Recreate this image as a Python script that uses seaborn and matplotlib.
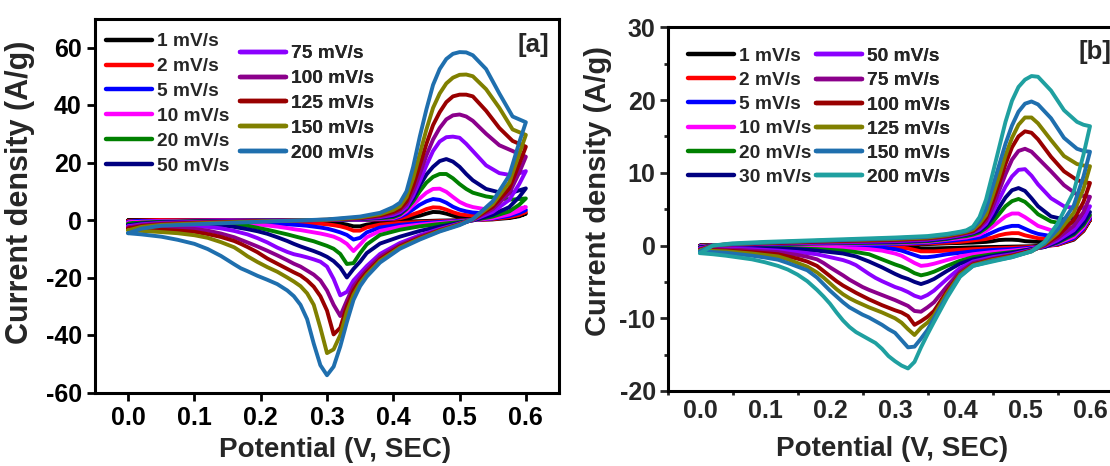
import matplotlib
matplotlib.use("Agg")
import matplotlib.pyplot as plt
from matplotlib.lines import Line2D
from matplotlib.ticker import MultipleLocator, FixedLocator
import pandas as pd
import seaborn as sns

# ---------------------------------------------------------------
# Potential grids (V vs SCE): anodic sweep then cathodic sweep
# ---------------------------------------------------------------
grid_fa = [0.00, 0.02, 0.05, 0.10, 0.20, 0.30, 0.35, 0.38,
           0.40, 0.41, 0.42, 0.43, 0.44, 0.45, 0.46, 0.47, 0.48, 0.49, 0.50, 0.51, 0.52,
           0.54, 0.56, 0.58, 0.60]
grid_ra = [0.60, 0.59, 0.575, 0.55, 0.52, 0.50, 0.47, 0.44, 0.41, 0.38,
           0.36, 0.35, 0.34, 0.33, 0.32, 0.31, 0.30, 0.29, 0.28, 0.27,
           0.26, 0.25, 0.24, 0.225, 0.21, 0.195, 0.18, 0.17, 0.16, 0.14,
           0.12, 0.10, 0.075, 0.05, 0.02, 0.00]

grid_fb = [0.00, 0.02, 0.05, 0.10, 0.20, 0.30, 0.35, 0.38,
           0.40, 0.41, 0.42, 0.43, 0.44, 0.45, 0.46, 0.47, 0.48, 0.49, 0.50, 0.51, 0.52,
           0.54, 0.56, 0.58, 0.59, 0.60]
grid_rb = [0.60, 0.59, 0.575, 0.55, 0.53, 0.51, 0.48, 0.45, 0.42, 0.40,
           0.38, 0.36, 0.35, 0.34, 0.33, 0.32, 0.31,
           0.30, 0.29, 0.28, 0.27, 0.26, 0.25, 0.24, 0.23, 0.22, 0.21,
           0.20, 0.19, 0.18, 0.165, 0.15, 0.135, 0.12, 0.10, 0.08, 0.06,
           0.04, 0.02, 0.00]

# ---------------------------------------------------------------
# Panel [a]: current density (A/g)
# ---------------------------------------------------------------
rates_a = ["1 mV/s", "2 mV/s", "5 mV/s", "10 mV/s", "20 mV/s", "50 mV/s",
           "75 mV/s", "100 mV/s", "125 mV/s", "150 mV/s", "200 mV/s"]
colors_a = ["#000000", "#FF0000", "#0000FF", "#FF00FF", "#008000", "#000080",
            "#8B00FF", "#8B008B", "#990000", "#808000", "#1F6FAE"]

a_f1 = [-0.1, -0.1, -0.1, 0.0, 0.0, 0.0, 0.1, 0.1,
        0.2, 0.3, 0.6, 1.0, 1.5, 2.2, 2.8, 2.7, 2.2, 1.5, 1.0, 0.8, 0.7,
        0.7, 0.8, 1.0, 2.2]
a_f2 = [-0.3, -0.2, -0.1, -0.1, 0.0, 0.0, 0.1, 0.2,
        0.3, 0.6, 1.2, 2.0, 2.8, 3.8, 4.4, 4.3, 3.6, 2.7, 2.0, 1.7, 1.5,
        1.4, 1.5, 1.8, 2.8]
a_f5 = [-0.6, -0.4, -0.3, -0.2, -0.1, 0.0, 0.1, 0.3,
        0.5, 1.1, 2.2, 3.7, 5.3, 6.5, 7.3, 7.0, 6.0, 4.6, 3.6, 3.0, 2.6,
        2.3, 2.3, 2.6, 3.5]
a_f10 = [-0.9, -0.6, -0.4, -0.3, -0.1, 0.0, 0.2, 0.4,
         0.7, 1.5, 3.0, 5.2, 7.5, 9.5, 10.8, 10.9, 9.8, 8.0, 6.3, 5.2, 4.5,
         3.7, 3.4, 3.5, 4.5]
a_f20 = [-1.3, -0.9, -0.6, -0.4, -0.2, 0.0, 0.3, 0.6,
         1.0, 1.9, 3.8, 6.5, 10.0, 13.0, 15.0, 16.0, 16.0, 14.5, 12.5, 10.8, 9.5,
         8.2, 7.5, 7.1, 7.5]
a_f50 = [-1.8, -1.2, -0.8, -0.5, -0.2, 0.0, 0.4, 0.8,
         1.4, 2.3, 4.2, 7.5, 12.0, 15.8, 18.5, 20.5, 21.2, 20.3, 18.5, 16.0, 13.8,
         10.8, 9.6, 9.6, 11.0]
a_f75 = [-2.2, -1.5, -1.0, -0.7, -0.3, 0.0, 0.5, 1.0,
         1.8, 2.7, 4.5, 8.5, 13.5, 19.0, 24.0, 27.3, 28.8, 29.0, 28.6, 26.5, 24.0,
         19.0, 16.3, 15.5, 17.0]
a_f100 = [-2.6, -1.8, -1.2, -0.8, -0.3, 0.0, 0.6, 1.3,
          2.3, 3.3, 5.5, 10.0, 16.0, 22.5, 28.0, 32.0, 35.0, 36.4, 36.7, 36.0, 34.5,
          30.0, 26.0, 24.0, 22.0]
a_f125 = [-3.0, -2.1, -1.5, -1.0, -0.4, 0.1, 0.7, 1.6,
          2.8, 3.9, 6.5, 12.0, 19.0, 26.5, 33.0, 37.5, 41.0, 43.0, 43.6, 43.6, 43.0,
          38.0, 32.0, 27.5, 25.5]
a_f150 = [-3.6, -2.4, -1.7, -1.2, -0.5, 0.1, 0.9, 2.0,
          3.5, 4.8, 8.0, 14.5, 23.0, 31.5, 39.0, 44.0, 47.5, 49.5, 50.5, 50.6, 50.0,
          45.5, 39.0, 31.5, 29.6]
a_f200 = [-4.6, -3.0, -2.0, -1.5, -0.6, 0.2, 1.2, 2.5,
          4.5, 6.0, 10.0, 18.5, 29.0, 38.5, 47.0, 52.5, 56.0, 57.8, 58.4, 58.3, 57.3,
          52.5, 44.0, 36.0, 34.0]

a_r1 = [2.2, 1.3, 0.7, 0.2, 0.0, -0.1, -0.2, -0.4, -0.6, -1.0, -1.6, -2.2, -2.2, -1.6, -1.2,
        -1.0, -0.8, -0.7, -0.6, -0.5,
        -0.5, -0.45, -0.4, -0.35, -0.3, -0.25, -0.2, -0.15, -0.1, -0.1, -0.1, -0.1, -0.1, -0.1, -0.1, -0.1]
a_r2 = [2.8, 1.8, 1.0, 0.3, 0.0, -0.2, -0.4, -0.7, -1.0, -1.6, -2.6, -3.7, -3.7, -2.8, -2.2,
        -1.8, -1.5, -1.3, -1.1, -1.0,
        -0.9, -0.8, -0.7, -0.6, -0.5, -0.4, -0.3, -0.3, -0.3, -0.2, -0.2, -0.2, -0.2, -0.2, -0.3, -0.3]
a_r5 = [3.5, 2.4, 1.4, 0.5, 0.0, -0.3, -0.7, -1.1, -1.7, -2.6, -4.3, -6.2, -6.8, -5.2, -4.3,
        -3.6, -3.0, -2.6, -2.3, -2.0,
        -1.8, -1.65, -1.5, -1.3, -1.1, -0.9, -0.7, -0.6, -0.5, -0.4, -0.4, -0.4, -0.45, -0.5, -0.5, -0.6]
a_r10 = [4.5, 3.2, 1.9, 0.7, -0.1, -0.5, -1.0, -1.6, -2.4, -3.8, -6.0, -8.5, -10.8, -8.3, -6.8,
         -5.8, -5.2, -4.7, -4.3, -3.9,
         -3.5, -3.2, -2.8, -2.3, -1.9, -1.5, -1.2, -1.0, -0.9, -0.7, -0.65, -0.6, -0.65, -0.7, -0.8, -0.9]
a_r20 = [7.5, 5.3, 3.0, 1.2, -0.1, -0.7, -1.4, -2.2, -3.4, -5.2, -8.5, -11.5, -15.0, -15.3, -11.8,
         -10.0, -9.0, -8.2, -7.4, -6.8,
         -6.2, -5.6, -5.0, -4.2, -3.4, -2.7, -2.0, -1.7, -1.4, -1.1, -1.0, -0.9, -0.95, -1.0, -1.1, -1.3]
a_r50 = [11.0, 8.0, 4.5, 1.8, -0.1, -1.0, -2.3, -3.8, -5.8, -8.2, -11.5, -14.5, -17.0, -20.0, -16.5,
         -14.3, -12.8, -11.7, -10.8, -10.0,
         -9.2, -8.3, -7.3, -6.0, -4.8, -3.9, -3.2, -2.8, -2.4, -1.8, -1.5, -1.3, -1.3, -1.4, -1.6, -1.8]
a_r75 = [17.0, 12.5, 7.0, 2.8, 0.0, -1.2, -3.1, -5.3, -8.0, -11.8, -16.0, -18.5, -21.0, -25.0, -26.2,
         -20.5, -16.2, -14.5, -13.7, -13.0,
         -12.4, -11.9, -11.1, -9.6, -7.8, -6.3, -5.0, -4.4, -3.8, -2.9, -2.4, -2.2, -2.1, -2.1, -2.1, -2.2]
a_r100 = [22.0, 16.5, 9.3, 3.8, 0.1, -1.4, -3.4, -5.8, -8.7, -12.8, -17.3, -20.0, -23.0, -28.0, -33.4,
          -29.5, -24.5, -21.0, -19.0, -17.6,
          -16.2, -15.2, -14.0, -12.3, -10.7, -9.2, -7.8, -6.9, -6.0, -4.7, -3.7, -3.1, -2.9, -2.8, -2.7, -2.6]
a_r125 = [25.5, 19.5, 11.0, 4.6, 0.2, -1.5, -3.6, -6.2, -9.2, -13.6, -18.2, -21.0, -24.5, -30.0, -37.5,
          -39.8, -31.5, -26.5, -23.2, -21.0,
          -19.3, -18.2, -17.0, -15.2, -13.4, -11.2, -9.4, -8.3, -7.3, -5.9, -4.9, -4.1, -3.7, -3.4, -3.1, -3.0]
a_r150 = [29.6, 23.0, 13.0, 5.5, 0.3, -1.6, -3.8, -6.5, -9.6, -14.2, -19.0, -22.0, -26.0, -32.0, -40.0,
          -45.0, -46.3, -37.5, -29.5, -25.5,
          -23.0, -21.4, -20.0, -18.0, -16.4, -14.6, -12.6, -11.0, -9.5, -7.7, -6.2, -5.3, -4.6, -4.2, -3.8, -3.6]
a_r200 = [34.0, 27.0, 15.5, 6.5, 0.3, -1.8, -4.0, -6.8, -10.0, -14.8, -19.7, -23.0, -27.8, -35.5, -44.0,
          -51.0, -54.0, -50.5, -43.0, -34.5,
          -29.5, -26.5, -24.5, -22.3, -20.8, -19.4, -17.8, -16.8, -15.4, -12.5, -10.1, -8.3, -6.9, -5.8, -5.0, -4.6]

# ---------------------------------------------------------------
# Panel [b]: current density (A/g)
# ---------------------------------------------------------------
rates_b = ["1 mV/s", "2 mV/s", "5 mV/s", "10 mV/s", "20 mV/s", "30 mV/s",
           "50 mV/s", "75 mV/s", "100 mV/s", "125 mV/s", "150 mV/s", "200 mV/s"]
colors_b = ["#000000", "#FF0000", "#0000FF", "#FF00FF", "#008000", "#000080",
            "#8B00FF", "#8B008B", "#990000", "#808000", "#1F6FAE", "#1FA0A0"]

b_f1 = [0.0, 0.0, 0.0, 0.0, 0.05, 0.1, 0.2, 0.3,
        0.35, 0.38, 0.4, 0.45, 0.5, 0.6, 0.75, 0.8, 0.8, 0.75, 0.6, 0.55, 0.5,
        0.5, 0.7, 1.4, 2.2, 3.5]
b_f2 = [-0.05, 0.0, 0.0, 0.05, 0.1, 0.15, 0.3, 0.4,
        0.5, 0.6, 0.7, 0.8, 0.9, 1.1, 1.4, 1.6, 1.7, 1.7, 1.4, 1.2, 1.0,
        0.9, 1.0, 1.6, 2.4, 3.6]
b_f5 = [-0.1, 0.0, 0.05, 0.1, 0.15, 0.2, 0.4, 0.6,
        0.8, 0.9, 1.0, 1.1, 1.4, 1.8, 2.2, 2.5, 2.7, 2.7, 2.3, 1.9, 1.6,
        1.3, 1.4, 1.9, 2.7, 3.8]
b_f10 = [-0.15, 0.0, 0.05, 0.1, 0.2, 0.3, 0.5, 0.8,
         1.0, 1.1, 1.3, 1.5, 2.0, 2.6, 3.3, 4.0, 4.4, 4.4, 3.9, 3.3, 2.7,
         2.1, 2.0, 2.4, 3.1, 4.0]
b_f20 = [-0.2, 0.0, 0.1, 0.1, 0.3, 0.4, 0.6, 0.9,
         1.2, 1.3, 1.5, 1.8, 2.4, 3.2, 4.3, 5.4, 6.1, 6.4, 6.0, 5.2, 4.3,
         3.3, 3.0, 3.2, 3.7, 4.2]
b_f30 = [-0.3, 0.0, 0.1, 0.2, 0.4, 0.5, 0.7, 1.0,
         1.3, 1.5, 1.7, 2.0, 2.7, 3.8, 5.2, 6.6, 7.6, 7.9, 7.5, 6.5, 5.4,
         4.0, 3.6, 3.8, 4.2, 4.6]
b_f50 = [-0.4, 0.0, 0.1, 0.2, 0.4, 0.6, 0.8, 1.1,
         1.4, 1.6, 1.8, 2.2, 3.0, 4.5, 6.3, 8.1, 9.5, 10.4, 10.5, 9.6, 8.4,
         6.5, 5.4, 5.1, 5.2, 5.4]
b_f75 = [-0.5, 0.0, 0.1, 0.3, 0.5, 0.7, 0.9, 1.2,
         1.5, 1.7, 1.9, 2.5, 3.4, 5.2, 7.5, 9.8, 11.8, 13.0, 13.3, 12.9, 12.0,
         10.2, 8.3, 7.0, 6.8, 6.7]
b_f100 = [-0.6, 0.0, 0.2, 0.3, 0.6, 0.8, 1.0, 1.3,
          1.6, 1.8, 2.0, 2.7, 3.8, 6.0, 8.5, 11.2, 13.5, 15.0, 15.7, 15.5, 14.6,
          12.2, 10.2, 9.0, 8.7, 8.6]
b_f125 = [-0.7, 0.0, 0.2, 0.4, 0.7, 0.9, 1.1, 1.4,
          1.7, 1.9, 2.2, 3.0, 4.2, 6.8, 9.5, 12.4, 14.8, 16.6, 17.6, 17.6, 16.8,
          14.5, 12.3, 11.2, 11.0, 10.9]
b_f150 = [-0.8, 0.0, 0.2, 0.4, 0.7, 1.0, 1.2, 1.5,
          1.8, 2.0, 2.4, 3.4, 5.0, 8.0, 11.0, 14.0, 16.5, 18.4, 19.5, 19.8, 19.4,
          17.5, 14.8, 13.3, 13.0, 12.9]
b_f200 = [-1.05, 0.0, 0.3, 0.5, 0.8, 1.1, 1.3, 1.6,
          1.9, 2.1, 2.6, 3.9, 6.3, 9.8, 13.4, 17.0, 19.9, 21.8, 22.8, 23.3, 23.2,
          21.3, 18.6, 17.0, 16.6, 16.4]

b_r1 = [3.5, 2.0, 0.8, 0.1, 0.0, -0.1, -0.15, -0.2, -0.25, -0.3, -0.35, -0.4, -0.4, -0.4, -0.3, -0.2, -0.15,
        -0.1, -0.08, -0.05, -0.05, -0.05, -0.02, 0.0, 0.0, 0.0, 0.0, 0.0, 0.0, 0.0, 0.0, 0.0, 0.0,
        0.0, 0.0, 0.0, 0.0, 0.0, 0.0, 0.0]
b_r2 = [3.6, 2.1, 0.9, 0.1, -0.1, -0.2, -0.3, -0.4, -0.5, -0.6, -0.7, -0.8, -0.8, -0.8, -0.6, -0.4, -0.3,
        -0.2, -0.18, -0.15, -0.12, -0.1, -0.1, -0.1, -0.1, -0.1, -0.08, -0.05, -0.05, -0.05, -0.05,
        -0.05, -0.05, -0.05, -0.05, -0.05, -0.05, -0.05, -0.05, -0.05]
b_r5 = [3.8, 2.3, 1.0, 0.2, -0.1, -0.3, -0.5, -0.6, -0.8, -1.0, -1.2, -1.5, -1.6, -1.6, -1.3, -1.0, -0.7,
        -0.5, -0.4, -0.3, -0.28, -0.25, -0.22, -0.2, -0.2, -0.2, -0.18, -0.15, -0.12, -0.1, -0.1,
        -0.1, -0.1, -0.1, -0.1, -0.1, -0.1, -0.1, -0.1, -0.1]
b_r10 = [4.0, 2.5, 1.2, 0.3, -0.2, -0.4, -0.7, -0.9, -1.2, -1.5, -2.0, -2.5, -2.7, -2.8, -2.4, -1.9, -1.4,
         -1.1, -0.9, -0.7, -0.6, -0.5, -0.45, -0.4, -0.38, -0.35, -0.32, -0.3, -0.28, -0.25, -0.22,
         -0.2, -0.2, -0.2, -0.18, -0.15, -0.15, -0.15, -0.15, -0.15]
b_r20 = [4.2, 2.8, 1.5, 0.4, -0.2, -0.5, -0.9, -1.2, -1.6, -2.1, -2.8, -3.6, -3.9, -4.1, -3.8, -3.3, -2.9,
         -2.6, -2.25, -1.9, -1.55, -1.2, -1.05, -0.9, -0.8, -0.7, -0.65, -0.6, -0.55, -0.5, -0.45,
         -0.4, -0.35, -0.3, -0.28, -0.25, -0.22, -0.2, -0.2, -0.2]
b_r30 = [4.6, 3.1, 1.7, 0.5, -0.2, -0.5, -1.0, -1.4, -1.9, -2.5, -3.5, -4.6, -5.0, -5.3, -5.0, -4.6, -4.3,
         -3.9, -3.45, -3.0, -2.6, -2.2, -1.85, -1.5, -1.3, -1.1, -1.0, -0.9, -0.8, -0.7, -0.6,
         -0.5, -0.45, -0.4, -0.38, -0.35, -0.32, -0.3, -0.3, -0.3]
b_r50 = [5.4, 3.7, 2.1, 0.7, -0.1, -0.6, -1.2, -1.6, -2.2, -3.1, -4.6, -6.2, -6.8, -7.2, -6.9, -6.4, -6.0,
         -5.7, -5.3, -4.9, -4.45, -3.9, -3.3, -2.7, -2.3, -2.0, -1.8, -1.6, -1.4, -1.2, -1.05,
         -0.9, -0.8, -0.7, -0.6, -0.5, -0.48, -0.45, -0.4, -0.4]
b_r75 = [6.7, 4.6, 2.7, 1.0, 0.0, -0.7, -1.3, -1.8, -2.4, -3.6, -5.6, -7.8, -8.5, -9.1, -9.0, -8.3, -7.9,
         -7.5, -7.15, -6.8, -6.45, -6.1, -5.7, -5.2, -4.7, -4.1, -3.55, -3.0, -2.4, -1.9, -1.55,
         -1.3, -1.1, -0.9, -0.8, -0.7, -0.6, -0.55, -0.5, -0.5]
b_r100 = [8.6, 6.0, 3.5, 1.3, 0.1, -0.7, -1.4, -1.9, -2.6, -3.9, -6.3, -9.0, -9.8, -10.4, -10.9, -9.7, -9.2,
          -8.9, -8.55, -8.2, -7.8, -7.4, -6.95, -6.5, -6.0, -5.5, -4.9, -4.2, -3.5, -2.8, -2.2,
          -1.8, -1.5, -1.2, -1.05, -0.9, -0.8, -0.7, -0.65, -0.6]
b_r125 = [10.9, 7.8, 4.5, 1.7, 0.2, -0.8, -1.5, -2.0, -2.7, -4.0, -6.6, -9.6, -10.6, -11.3, -12.3, -11.5, -10.6,
          -10.0, -9.6, -9.2, -8.85, -8.5, -8.1, -7.7, -7.25, -6.7, -6.0, -5.2, -4.4, -3.7, -2.9,
          -2.4, -1.9, -1.5, -1.3, -1.1, -0.95, -0.8, -0.75, -0.7]
b_r150 = [12.9, 9.5, 5.5, 2.2, 0.3, -0.8, -1.6, -2.1, -2.8, -4.2, -6.9, -10.0, -11.6, -12.8, -13.9, -14.0, -13.0,
          -12.0, -11.5, -10.9, -10.4, -9.9, -9.5, -9.0, -8.5, -7.8, -7.0, -6.2, -5.3, -4.4, -3.4,
          -2.9, -2.4, -1.95, -1.65, -1.4, -1.2, -1.0, -0.9, -0.8]
b_r200 = [16.4, 12.5, 7.4, 3.0, 0.5, -0.8, -1.6, -2.2, -2.8, -4.3, -7.2, -10.5, -12.2, -14.0, -16.0, -16.9, -16.5,
          -15.9, -15.2, -14.2, -13.4, -12.9, -12.4, -11.9, -11.2, -10.3, -9.2, -8.0, -7.0, -6.1, -4.9,
          -4.0, -3.3, -2.8, -2.3, -1.9, -1.65, -1.4, -1.2, -1.05]

fwd_a = [a_f1, a_f2, a_f5, a_f10, a_f20, a_f50, a_f75, a_f100, a_f125, a_f150, a_f200]
rev_a = [a_r1, a_r2, a_r5, a_r10, a_r20, a_r50, a_r75, a_r100, a_r125, a_r150, a_r200]
fwd_b = [b_f1, b_f2, b_f5, b_f10, b_f20, b_f30, b_f50, b_f75, b_f100, b_f125, b_f150, b_f200]
rev_b = [b_r1, b_r2, b_r5, b_r10, b_r20, b_r30, b_r50, b_r75, b_r100, b_r125, b_r150, b_r200]


def loops(rates, fwd, rev, gf, gr):
    """Long-form table: one closed CV loop (anodic + cathodic sweep) per scan rate."""
    parts = []
    for name, f, r in zip(rates, fwd, rev):
        parts.append(pd.DataFrame({"E": gf + gr, "j": f + r, "rate": name}))
    return pd.concat(parts, ignore_index=True)


df_a = loops(rates_a, fwd_a, rev_a, grid_fa, grid_ra)
df_b = loops(rates_b, fwd_b, rev_b, grid_fb, grid_rb)

sns.set_theme(style="ticks")
plt.rcParams["font.family"] = ["Liberation Sans", "DejaVu Sans"]
plt.rcParams["font.weight"] = "bold"
plt.rcParams["axes.labelweight"] = "bold"
plt.rcParams["axes.unicode_minus"] = False
plt.rcParams["axes.linewidth"] = 2.2
plt.rcParams["axes.edgecolor"] = "black"
plt.rcParams["lines.solid_joinstyle"] = "round"
plt.rcParams["lines.solid_capstyle"] = "round"

W, H = 1110, 466
fig = plt.figure(figsize=(W / 100, H / 100), dpi=100)
fig.patch.set_facecolor("white")


def px_axes(left, top, right, bottom):
    return fig.add_axes([left / W, 1 - bottom / H, (right - left) / W, (bottom - top) / H])


ax_a = px_axes(95, 18.75, 559, 392.5)
ax_b = px_axes(667.5, 27.3, 1122.5, 391)

LW = 2.8
sns.lineplot(data=df_a, x="E", y="j", hue="rate", hue_order=rates_a,
             palette=colors_a, sort=False, estimator=None, linewidth=LW,
             legend=False, ax=ax_a)
sns.lineplot(data=df_b, x="E", y="j", hue="rate", hue_order=rates_b,
             palette=colors_b, sort=False, estimator=None, linewidth=LW,
             legend=False, ax=ax_b)

TICK_FS = 18
LABEL_FS = 20

# ---- panel [a] axes ----
ax_a.set_xlim(-0.05, 0.65)
ax_a.set_ylim(-60, 70)
ax_a.xaxis.set_major_locator(MultipleLocator(0.1))
ax_a.yaxis.set_major_locator(MultipleLocator(20))
ax_a.tick_params(axis="both", which="major", direction="out", length=5.5,
                 width=2.0, labelsize=TICK_FS, pad=4, colors="black",
                 top=False, right=False)
for s in ax_a.spines.values():
    s.set_visible(True)
    s.set_linewidth(2.2)
ax_a.set_xlabel("Potential (V, SEC)", fontsize=LABEL_FS, fontweight="bold")
ax_a.set_ylabel("Current density (A/g)", fontsize=22, fontweight="bold")
ax_a.xaxis.set_label_coords(0.518, -0.118)
ax_a.yaxis.set_label_coords(-0.13, 0.535)
ax_a.text(0.9116, 0.93, "[a]", transform=ax_a.transAxes, fontsize=18.5,
          fontweight="bold", ha="left", va="center")

# ---- panel [b] axes ----
ax_b.set_xlim(-0.05, 0.65)
ax_b.set_ylim(-20, 30)
ax_b.xaxis.set_major_locator(MultipleLocator(0.1))
ax_b.xaxis.set_minor_locator(FixedLocator([-0.05 + 0.1 * k for k in range(8)]))
ax_b.yaxis.set_major_locator(MultipleLocator(10))
ax_b.yaxis.set_minor_locator(MultipleLocator(5))
ax_b.tick_params(axis="x", which="major", length=0, labelsize=TICK_FS, pad=6)
ax_b.tick_params(axis="x", which="minor", direction="out", length=3, width=2.0,
                 bottom=True)
ax_b.tick_params(axis="y", which="major", direction="out", length=5.5, width=2.0,
                 labelsize=TICK_FS, pad=3)
ax_b.tick_params(axis="y", which="minor", direction="out", length=3, width=2.0,
                 left=True)
ax_b.tick_params(top=False, right=False, which="both")
for s in ax_b.spines.values():
    s.set_visible(True)
    s.set_linewidth(2.2)
ax_b.set_xlabel("Potential (V, SEC)", fontsize=LABEL_FS, fontweight="bold")
ax_b.set_ylabel("Current density (A/g)", fontsize=21, fontweight="bold")
ax_b.xaxis.set_label_coords(0.493, -0.125)
ax_b.yaxis.set_label_coords(-0.122, 0.55)
ax_b.text(0.903, 0.933, "[b]", transform=ax_b.transAxes, fontsize=18.5,
          fontweight="bold", ha="left", va="center")


# ---- legends: two columns per panel ----
def legend_column(ax, names, cols, anchor, spacing):
    handles = [Line2D([0], [0], color=c, lw=3.2) for c in cols]
    leg = ax.legend(handles, names, loc="upper left", bbox_to_anchor=anchor,
                    frameon=False, borderpad=0, borderaxespad=0,
                    handlelength=2.4, handletextpad=0.28, labelspacing=spacing,
                    prop={"weight": "bold", "size": 13.8})
    ax.add_artist(leg)


legend_column(ax_a, rates_a[:6], colors_a[:6], (0.0237, 0.962), 0.39)
legend_column(ax_a, rates_a[6:], colors_a[6:], (0.3125, 0.930), 0.39)
legend_column(ax_b, rates_b[:6], colors_b[:6], (0.045, 0.945), 0.355)
legend_column(ax_b, rates_b[6:], colors_b[6:], (0.3257, 0.944), 0.355)

fig.savefig("out.png", dpi=100, facecolor="white")
